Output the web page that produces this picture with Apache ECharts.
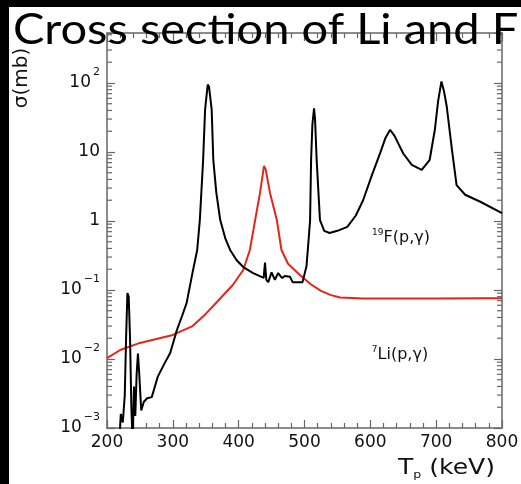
<!DOCTYPE html>
<html><head><meta charset="utf-8">
<script src="https://cdn.jsdelivr.net/npm/echarts@6/dist/echarts.min.js"></script>
<style>html,body{margin:0;padding:0;background:#fff}#c{width:521px;height:484px}</style>
</head><body><div id="c"></div>
<script>
// ---- data ----
const titleText = 'Cross section of Li and F';
const xMin = 200, xMax = 800, xStep = 100;
const yMin = 0.001, yMax = 530;
const yDecades = [0.001, 0.01, 0.1, 1, 10, 100];
const yTickLabels = ['{b|10}{s|−3}', '{b|10}{s|−2}', '{b|10}{s|−1}', '{b|1}', '{b|10}', '{b|10}{s|2}'];
const minorMantissas = [2, 3, 4, 5, 6, 7, 8, 9];

// 19F(p,gamma)
const fEnergy = [218,221,224,227,229,231,233,235,237,239,241,243,245,247,249,252,256,261,268,277,287,296,306,314,321,330,337,341,346,349,353,355,359,361.5,366,372,380,387,397,407,422,438,440,442,445,450,455,460,466,470,478,482,497,503,506,508.5,510,512,514.5,516,518.5,523.5,530,538,550,565,578,589,602,615,623,630,637,650,663,678,690,698,703,708,712,716,724,731,744,767,800];
const fSigma = [0.0005,0.0016,0.0012,0.003,0.02,0.09,0.08,0.02,0.002,0.0006,0.004,0.0015,0.006,0.012,0.006,0.0018,0.0024,0.0027,0.0028,0.0055,0.0085,0.0122,0.026,0.042,0.065,0.18,0.38,1.03,7.6,41,95,88,41,7.6,2.6,1.03,0.55,0.38,0.27,0.215,0.176,0.15,0.25,0.14,0.13,0.18,0.14,0.176,0.149,0.16,0.155,0.13,0.13,0.22,0.5,1.03,7.6,25,43,30,7.6,1.03,0.72,0.67,0.72,0.82,1.2,2.0,4.5,9.7,16,21,17,9.5,6.5,5.5,7.6,21,55,105,75,46,10.7,3.3,2.4,1.9,1.3];

// 7Li(p,gamma)
const liEnergy = [200,220,250,300,330,350,367,391,407,417,425,432.4,438.5,441,447.6,458,465,475,493,510,525,539,554,589,650,700,767,800];
const liSigma = [0.0103,0.0135,0.0171,0.0223,0.030,0.045,0.067,0.118,0.195,0.38,1.03,2.55,6.3,5.6,2.55,1.03,0.38,0.24,0.165,0.12,0.097,0.085,0.078,0.075,0.075,0.075,0.076,0.076];

// ---- build ----
const fData = fEnergy.map((e, i) => [e, fSigma[i]]);
const liData = liEnergy.map((e, i) => [e, liSigma[i]]);
const yMinor = [];
yDecades.forEach(d => minorMantissas.forEach(m => { const v = m * d; if (v <= yMax) yMinor.push([xMin, v]); }));

const AX = '#666';
const LBL = '#111';
const FONT = '"DejaVu Sans", sans-serif';

function fmtY(v) {
  for (let i = 0; i < yDecades.length; i++) {
    if (Math.abs(Math.log10(v) - Math.log10(yDecades[i])) < 1e-6) return yTickLabels[i];
  }
  return '';
}

const xAxisBase = {
  type: 'value', min: xMin, max: xMax, interval: xStep,
  axisLine: { show: true, lineStyle: { color: AX, width: 1.5 } },
  axisTick: { show: true, inside: true, length: 8, lineStyle: { color: AX, width: 1.2 } },
  minorTick: { show: true, splitNumber: 5, length: 5, lineStyle: { color: AX, width: 1.2 } },
  splitLine: { show: false }
};
const yAxisBase = {
  type: 'log', logBase: 10, min: yMin, max: yMax,
  axisLine: { show: true, lineStyle: { color: AX, width: 1.5 } },
  axisTick: { show: true, inside: true, length: 8, lineStyle: { color: AX, width: 1.2 } },
  splitLine: { show: false }
};

const chart = echarts.init(document.getElementById('c'), null, { renderer: 'canvas' });
chart.setOption({
  backgroundColor: '#fff',
  animation: false,
  grid: { left: 107, right: 19, top: 33, bottom: 56, containLabel: false, outerBoundsMode: 'none' },
  xAxis: [
    Object.assign({}, xAxisBase, {
      position: 'bottom',
      axisLabel: { margin: 6, color: LBL, fontFamily: FONT, fontSize: 17 }
    }),
    Object.assign({}, xAxisBase, { position: 'top', axisLabel: { show: false } })
  ],
  yAxis: [
    Object.assign({}, yAxisBase, {
      position: 'left',
      axisLabel: {
        margin: 7, formatter: fmtY, color: LBL, fontFamily: FONT, fontSize: 17,
        rich: {
          b: { fontFamily: FONT, fontSize: 17, color: LBL, lineHeight: 32 },
          s: { fontFamily: FONT, fontSize: 11, color: LBL, lineHeight: 14, verticalAlign: 'top', padding: [0, 0, 0, 2] }
        }
      }
    }),
    Object.assign({}, yAxisBase, { position: 'right', axisLabel: { show: false } })
  ],
  series: [
    {
      type: 'custom', name: 'yMinorTicks', xAxisIndex: 0, yAxisIndex: 0, silent: true, z: 3,
      data: yMinor, encode: { x: 0, y: 1 },
      renderItem: function (params, api) {
        const p = api.coord([api.value(0), api.value(1)]);
        const cs = params.coordSys;
        const st = { stroke: AX, lineWidth: 1.2 };
        return {
          type: 'group', children: [
            { type: 'line', shape: { x1: cs.x, y1: p[1], x2: cs.x + 5, y2: p[1] }, style: st },
            { type: 'line', shape: { x1: cs.x + cs.width, y1: p[1], x2: cs.x + cs.width - 5, y2: p[1] }, style: st }
          ]
        };
      }
    },
    {
      type: 'line', name: '7Li(p,γ)', data: liData, showSymbol: false, symbol: 'none', clip: true,
      lineStyle: { color: '#e8231a', width: 2 }, z: 4
    },
    {
      type: 'line', name: '19F(p,γ)', data: fData, showSymbol: false, symbol: 'none', clip: true,
      lineStyle: { color: '#000', width: 2 }, z: 5
    }
  ],
  graphic: [
    {
      type: 'text', x: 22, y: 78, rotation: Math.PI / 2, z: 1,
      style: { text: 'σ(mb)', font: '20px "DejaVu Sans"', fill: '#111', align: 'center', verticalAlign: 'middle' }
    },
    {
      type: 'text', x: 13, y: 9, z: 50, scaleX: 1.12,
      style: { text: titleText, font: '42px Lato', fill: '#000', align: 'left', verticalAlign: 'top' }
    },
    {
      type: 'text', x: 398, y: 455, z: 10, scaleX: 1.14,
      style: {
        text: '{t|T}{p|p}{t| (keV)}', align: 'left', verticalAlign: 'top',
        rich: {
          t: { fontFamily: FONT, fontSize: 22, fill: '#111', lineHeight: 26 },
          p: { fontFamily: FONT, fontSize: 11, fill: '#111', lineHeight: 10, verticalAlign: 'bottom' }
        }
      }
    },
    {
      type: 'text', x: 401, y: 238, z: 10,
      style: {
        text: '{s|19}{m|F(p,γ)}', align: 'center', verticalAlign: 'middle',
        rich: {
          m: { fontFamily: FONT, fontSize: 16, fill: '#111', lineHeight: 20 },
          s: { fontFamily: FONT, fontSize: 9, fill: '#111', lineHeight: 10, verticalAlign: 'top' }
        }
      }
    },
    {
      type: 'text', x: 400, y: 355, z: 10,
      style: {
        text: '{s|7}{m|Li(p,γ)}', align: 'center', verticalAlign: 'middle',
        rich: {
          m: { fontFamily: FONT, fontSize: 16, fill: '#111', lineHeight: 20 },
          s: { fontFamily: FONT, fontSize: 9, fill: '#111', lineHeight: 10, verticalAlign: 'top' }
        }
      }
    },
    { type: 'rect', x: 0, y: 0, z: 100, shape: { x: 0, y: 0, width: 9, height: 484 }, style: { fill: '#000' } },
    { type: 'rect', x: 0, y: 0, z: 100, shape: { x: 0, y: 0, width: 521, height: 7 }, style: { fill: '#000' } }
  ]
});
</script></body></html>
